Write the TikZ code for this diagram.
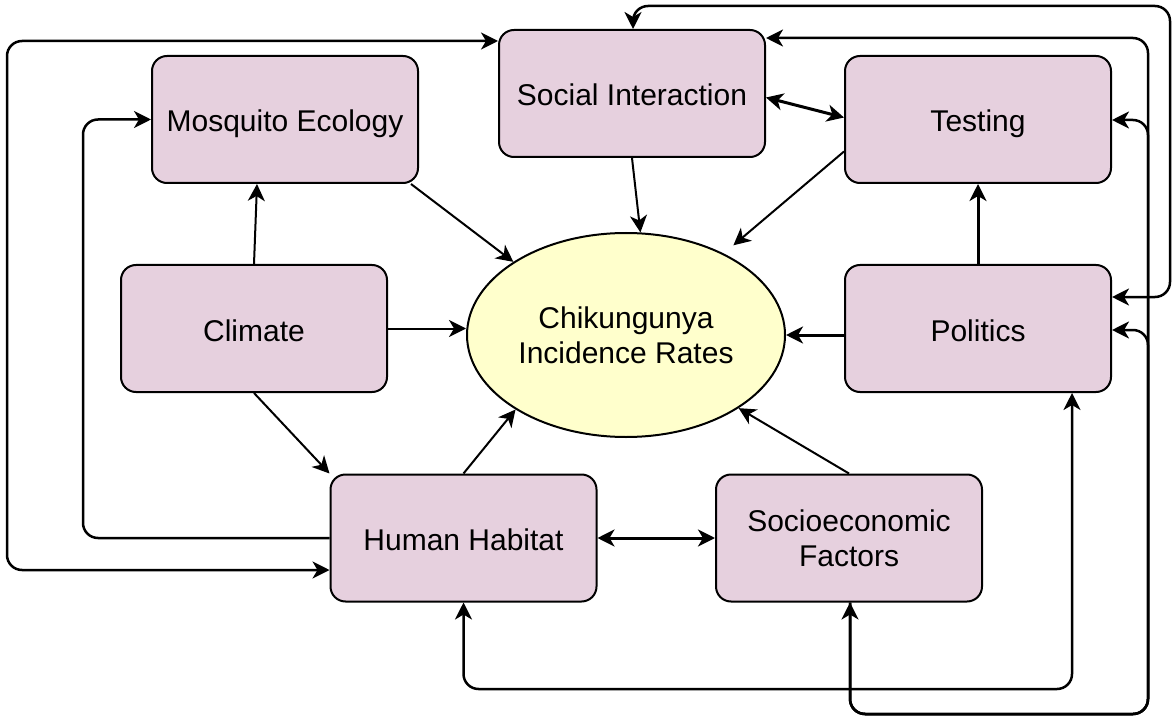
\documentclass[tikz,border=0pt]{standalone}
\usepackage{fontspec}
\setmainfont{Liberation Sans}
\usetikzlibrary{arrows.meta,shapes.geometric,calc}
\definecolor{boxfill}{HTML}{E6D0DE}
\definecolor{ellfill}{HTML}{FFFFCC}
\begin{document}
\begin{tikzpicture}[x=1pt,y=-1pt,
  txt/.style={font=\fontsize{30}{35}\selectfont},
  box/.style={txt, draw=black, line width=2pt, fill=boxfill, rounded corners=15pt,
    minimum width=266pt, minimum height=127pt, inner sep=0pt, align=center},
  onebox/.style={box, text height=25pt, text depth=0pt},
  ell/.style={txt, ellipse, draw=black, line width=2pt, fill=ellfill,
    minimum width=318pt, minimum height=204pt, inner sep=0pt, align=center},
  tip/.tip={Stealth[length=17pt,width=17pt,inset=5pt]},
  arr/.style={line width=2pt, -tip},
  arrthick/.style={line width=3pt, -tip},
  darr/.style={line width=2.5pt, tip-tip},
  darrthick/.style={line width=3pt, tip-tip},
  arrroute/.style={line width=2.5pt, -tip},
  route/.style={rounded corners=15pt}
]
\useasboundingbox (0,0) rectangle (1172,719);

% nodes
\node[onebox] (si) at (632,93.5) {Social Interaction};
\node[onebox] (me) at (285,119.5) {Mosquito Ecology};
\node[onebox] (te) at (978,119.5) {Testing};
\node[onebox] (cl) at (254,328.5) {Climate};
\node[onebox] (po) at (978,328.5) {Politics};
\node[onebox] (hh) at (463.5,538) {Human Habitat};
\node[box] (se) at (849,538) {Socioeconomic\\Factors};
\node[ell] (ell) at (626,335) {Chikungunya\\Incidence Rates};

% route coordinates
\coordinate (a1) at (1170,297);
\coordinate (a2) at (1170,6);
\coordinate (a3) at (633,6);
\coordinate (t1) at (1148,38);
\coordinate (t2) at (1148,714);
\coordinate (t3) at (850,714);
\coordinate (t4) at (1148,120);
\coordinate (t5) at (1148,330);
\coordinate (b1) at (463.5,689);
\coordinate (b2) at (1072,689);
\coordinate (c1) at (7,570);
\coordinate (c2) at (7,41);
\coordinate (d1) at (83,538);
\coordinate (d2) at (83,119.5);

% routed connectors
\draw[darr, route] (po.east |- a1) -- (a1) -- (a2) -- (a3) -- (si.north -| a3);
\draw[darr, route] (se.south -| t3) -- (t3) -- (t2) -- (t1) -- (si.east |- t1);
\draw[arrroute, route] (se.south -| t3) -- (t3) -- (t2) -- (t4) -- (te.east |- t4);
\draw[arrroute, route] (se.south -| t3) -- (t3) -- (t2) -- (t5) -- (po.east |- t5);
\draw[darr, route] (hh.south) -- (b1) -- (b2) -- (po.south -| b2);
\draw[darr, route] (hh.west |- c1) -- (c1) -- (c2) -- (si.west |- c2);
\draw[arrroute, route] (hh.west) -- (d1) -- (d2) -- (me.west);

% straight connectors
\draw[arr] (si.south) -- (ell.82);
\draw[arr] ([xshift=-8pt]me.south east) -- (ell.147);
\draw[arr] ([yshift=-32pt]te.west) -- ([shift={(10pt,8pt)}]ell.40);
\draw[arr] (cl.east) -- (cl.east -| ell.west);
\draw[arrthick] (po.west |- ell.east) -- (ell.east);
\draw[arr] (hh.north) -- (ell.214);
\draw[arr] (se.north) -- (ell.-33);
\draw[arr] (cl.north) -- ([xshift=-28pt]me.south);
\draw[arr] (cl.south) -- (hh.north west);
\draw[arrthick] (po.north) -- (te.south);
\draw[darrthick] ([yshift=-4pt]si.east) -- ([yshift=2pt]te.west);
\draw[darrthick] (hh.east) -- (se.west);
\end{tikzpicture}
\end{document}
